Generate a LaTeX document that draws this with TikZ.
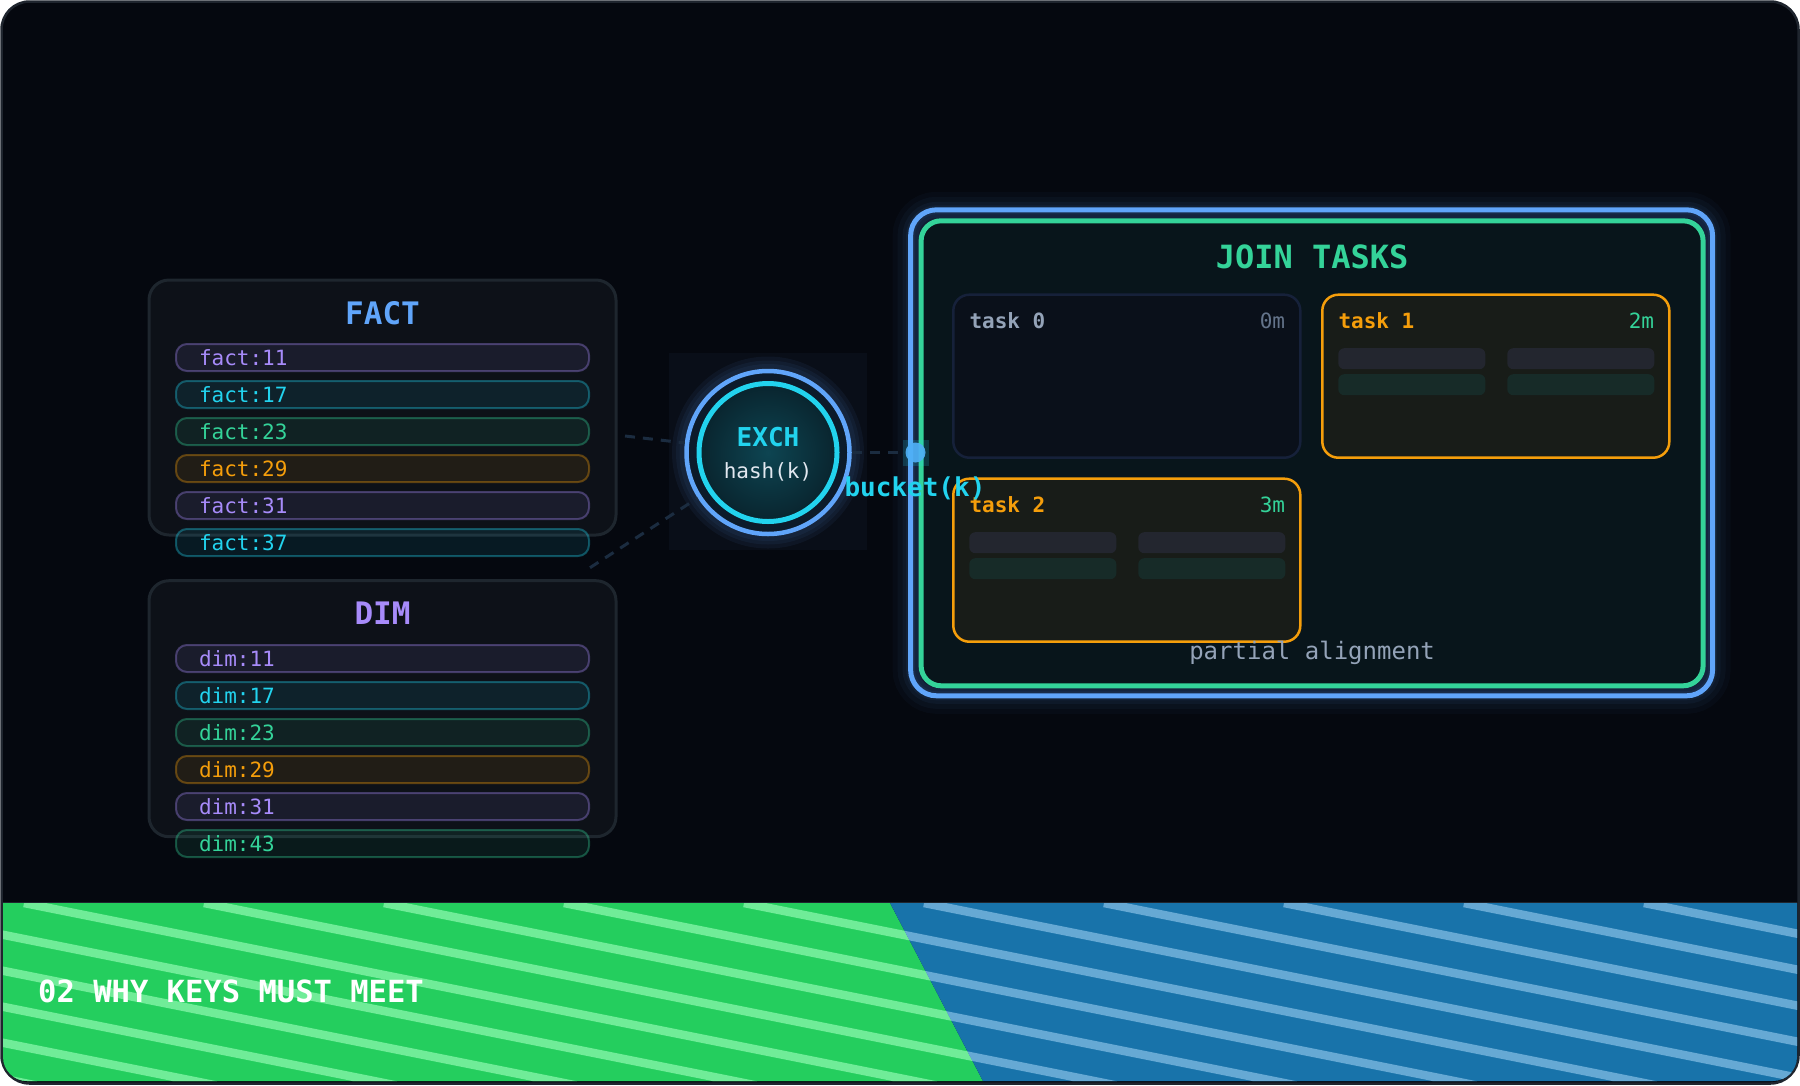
\documentclass[tikz,border=0pt]{standalone}
\usepackage{fontspec}
\setmainfont{DejaVu Sans Mono}
\usetikzlibrary{positioning,calc}
\definecolor{bg}{HTML}{05080F}
\definecolor{frameline}{HTML}{1F252E}
\definecolor{panelfill}{HTML}{0D1118}
\definecolor{paneledge}{HTML}{1E262E}
\definecolor{keyblue}{HTML}{60A5FA}
\definecolor{keypurple}{HTML}{A78BFA}
\definecolor{keycyan}{HTML}{22D3EE}
\definecolor{keygreen}{HTML}{34D399}
\definecolor{keyamber}{HTML}{F59E0B}
\definecolor{linkgray}{HTML}{1B2C40}
\definecolor{textgray}{HTML}{94A3B8}
\definecolor{mutegray}{HTML}{64748B}
\definecolor{hashwhite}{HTML}{E2E8F0}
\definecolor{joinfill}{HTML}{08151B}
\definecolor{joingap}{HTML}{0B1526}
\definecolor{idlefill}{HTML}{0A101A}
\definecolor{idleedge}{HTML}{16213A}
\definecolor{taskfill}{HTML}{181C18}
\definecolor{barpale}{HTML}{23262F}
\definecolor{bargreen}{HTML}{172B28}
\definecolor{ringgap}{HTML}{0C1B2B}
\definecolor{dotblue}{HTML}{4FB0F6}
\definecolor{glowbox}{HTML}{090E18}
\definecolor{bandgreen}{HTML}{24CE5E}
\definecolor{bandgreenlight}{HTML}{70EC98}
\definecolor{bandblue}{HTML}{1873AA}
\definecolor{bandbluelight}{HTML}{66A9D4}
\tikzset{
  panel/.style={draw=paneledge, line width=3pt, rounded corners=20pt, fill=panelfill,
              minimum width=467pt, minimum height=255pt, inner sep=0pt, outer sep=0pt},
  heading/.style={font=\fontsize{31pt}{36pt}\selectfont\bfseries, inner sep=0pt, anchor=base},
  keyrow/.style={draw=#1, draw opacity=0.35, fill=#1, fill opacity=0.09, text opacity=1,
              text=#1, line width=2pt, rounded corners=11pt, minimum width=413pt,
              minimum height=27pt, inner xsep=23pt, inner ysep=0pt, text width=367pt,
              align=left, text height=16.4pt, text depth=0pt,
              font=\fontsize{21pt}{25pt}\selectfont},
  taskbox/.style={draw=keyamber, line width=2.5pt, rounded corners=16pt, fill=taskfill,
              minimum width=347pt, minimum height=163pt, inner sep=0pt, outer sep=0pt},
  idlebox/.style={taskbox, draw=idleedge, fill=idlefill},
  tasktag/.style={font=\fontsize{21pt}{25pt}\selectfont\bfseries, inner sep=0pt, anchor=base west},
  tasktime/.style={font=\fontsize{21pt}{25pt}\selectfont, inner sep=0pt, anchor=base east},
  link/.style={draw=linkgray, line width=3pt, dash pattern=on 10pt off 8pt},
  stripe/.style={line width=8.5pt},
}

\begin{document}
\begin{tikzpicture}[x=1pt,y=-1pt]
  \useasboundingbox (0,0) rectangle (1800,1085);
  \draw[frameline, line width=2.5pt, fill=bg, rounded corners=28pt] (1.5,1.5) rectangle (1798.5,1083.5);

  % bottom band
  \begin{scope}
    \clip[rounded corners=24pt] (3,3) rectangle (1797,1081);
    \fill[bandgreen] (0,903) -- (890,903) -- (985,1085) -- (0,1085) -- cycle;
    \fill[bandblue] (890,903) -- (1800,903) -- (1800,1085) -- (985,1085) -- cycle;
    \begin{scope}
      \clip (0,903) -- (890,903) -- (985,1085) -- (0,1085) -- cycle;
      \foreach \k in {-6,...,10}
        \draw[stripe, bandgreenlight] (24+180*\k,903) -- ++(1000,200);
    \end{scope}
    \begin{scope}
      \clip (890,903) -- (1800,903) -- (1800,1085) -- (985,1085) -- cycle;
      \foreach \k in {-6,...,10}
        \draw[stripe, bandbluelight] (24+180*\k,903) -- ++(1000,200);
    \end{scope}
  \end{scope}
  \draw[frameline, line width=1.5pt] (3,902.5) -- (1797,902.5);
  \node[anchor=base west, inner sep=0pt, text=white, font=\fontsize{30.5pt}{36pt}\selectfont\bfseries]
    (caption) at (38,1002) {02 WHY KEYS MUST MEET};

  % source tables
  \node[panel] (fact) at (382.5,407.5) {};
  \node[heading, text=keyblue] (facttitle) at ($(fact.north)+(0,44)$) {FACT};
  \foreach \k/\c [count=\i] in {11/keypurple,17/keycyan,23/keygreen,29/keyamber,31/keypurple,37/keycyan}
    \node[keyrow=\c] (fact\i) at (382.5,320.5+37*\i) {fact:\k};

  \node[panel, minimum height=256pt] (dim) at (382.5,708.7) {};
  \node[heading, text=keypurple] (dimtitle) at ($(dim.north)+(0,44)$) {DIM};
  \foreach \k/\c [count=\i] in {11/keypurple,17/keycyan,23/keygreen,29/keyamber,31/keypurple,43/keygreen}
    \node[keyrow=\c] (dim\i) at (382.5,621.5+37*\i) {dim:\k};

  % join tasks
  \node[draw=keyblue, line width=5pt, rounded corners=26pt, fill=joingap, minimum width=802pt,
        minimum height=486pt, inner sep=0pt, outer sep=0pt] (joinframe) at (1311.6,452.8) {};
  \foreach \w/\o in {36/0.03,26/0.04,16/0.05,9/0.06}
    \draw[keyblue, line width=\w pt, opacity=\o, rounded corners=26pt]
      (joinframe.south west) rectangle (joinframe.north east);
  \node[draw=keygreen, line width=5pt, rounded corners=20pt, fill=joinfill, minimum width=782pt,
        minimum height=465pt, inner sep=0pt, outer sep=0pt] (joinbox) at (1312.1,453.3) {};
  \node[heading, text=keygreen, font=\fontsize{32pt}{36pt}\selectfont\bfseries]
    (jointitle) at ($(joinbox.north)+(0,47.5)$) {JOIN TASKS};

  \node[idlebox] (task0) at (1126.8,376.2) {};
  \node[taskbox, right=22pt of task0] (task1) {};
  \node[taskbox, below=21pt of task0] (task2) {};
  \node[tasktag, text=textgray] (tag0) at ($(task0.north west)+(16,33.7)$) {task 0};
  \node[tasktime, text=mutegray] (time0) at ($(task0.north east)+(-15,33.7)$) {0m};
  \node[tasktag, text=keyamber] (tag1) at ($(task1.north west)+(16,33.7)$) {task 1};
  \node[tasktime, text=keygreen] (time1) at ($(task1.north east)+(-15,33.7)$) {2m};
  \node[tasktag, text=keyamber] (tag2) at ($(task2.north west)+(16,33.7)$) {task 2};
  \node[tasktime, text=keygreen] (time2) at ($(task2.north east)+(-15,33.7)$) {3m};
  \foreach \t in {task1,task2} {
    \fill[barpale, rounded corners=6pt] ($(\t.north west)+(16,53.5)$) rectangle ++(147,21);
    \fill[barpale, rounded corners=6pt] ($(\t.north west)+(185,53.5)$) rectangle ++(147,21);
    \fill[bargreen, rounded corners=6pt] ($(\t.north west)+(16,79.5)$) rectangle ++(147,21);
    \fill[bargreen, rounded corners=6pt] ($(\t.north west)+(185,79.5)$) rectangle ++(147,21);
  }
  \node[anchor=base, inner sep=0pt, text=textgray, font=\fontsize{24pt}{28pt}\selectfont]
    (partial) at ($(joinbox.south)+(0,-26)$) {partial alignment};

  % exchange
  \fill[glowbox] (669,353) rectangle (867,550);
  \foreach \w in {24,16,9}
    \draw[keyblue, line width=\w pt, opacity=0.06] (768,452.5) circle[radius=84];
  \node[circle, draw=keyblue, line width=4.5pt, fill=ringgap, minimum size=163pt, inner sep=0pt]
    (exch) at (768,452.5) {};
  \node[circle, draw=keycyan, line width=5pt, inner color=keycyan!30!bg, outer color=keycyan!14!bg,
        minimum size=138pt, inner sep=0pt] (exchcore) at (exch.center) {};
  \node[anchor=base, inner sep=0pt, text=keycyan, font=\fontsize{26pt}{30pt}\selectfont\bfseries]
    (exchname) at (768,446.7) {EXCH};
  \node[anchor=base, inner sep=0pt, text=hashwhite, font=\fontsize{21pt}{25pt}\selectfont]
    (exchhash) at (768,478.3) {hash(k)};

  \fill[keycyan, opacity=0.18] (902.5,439.5) rectangle (928.5,465.5);
  \node[circle, fill=dotblue, fill opacity=0.92, minimum size=20pt, inner sep=0pt] (bucketdot) at (915.5,452.5) {};

  \coordinate (factout) at ($(fact.east)+(9,28.5)$);
  \coordinate (dimout) at ($(dim.north east)+(-26,-13)$);
  \draw[link] (factout) -- (exch);
  \draw[link] (dimout) -- (exch);
  \draw[link] (exch) -- (bucketdot);

  \node[anchor=base, inner sep=0pt, text=keycyan, font=\fontsize{26pt}{30pt}\selectfont\bfseries]
    (bucketlabel) at (915,496.7) {bucket(k)};
\end{tikzpicture}
\end{document}
